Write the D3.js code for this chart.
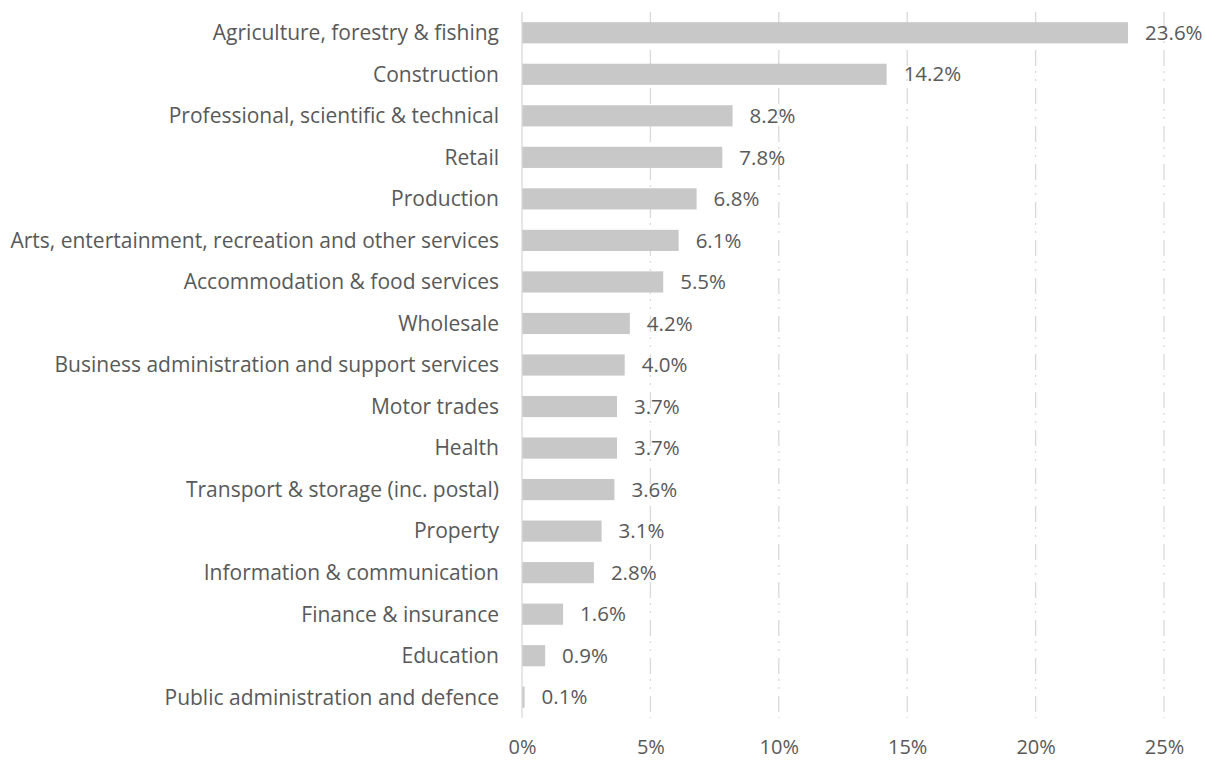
<!DOCTYPE html>
<html>
<head>
<meta charset="utf-8">
<script src="https://cdn.jsdelivr.net/npm/d3@7"></script>
<style>
  html, body { margin: 0; padding: 0; background: #ffffff; }
  svg { display: block; }
  text { font-family: "Open Sans", "Noto Sans", sans-serif; fill: #595959; }
</style>
</head>
<body>
<svg id="chart" width="1205" height="760"></svg>
<script>
// Share of businesses by industry (%)
const sectors = [
  "Agriculture, forestry & fishing",
  "Construction",
  "Professional, scientific & technical",
  "Retail",
  "Production",
  "Arts, entertainment, recreation and other services",
  "Accommodation & food services",
  "Wholesale",
  "Business administration and support services",
  "Motor trades",
  "Health",
  "Transport & storage (inc. postal)",
  "Property",
  "Information & communication",
  "Finance & insurance",
  "Education",
  "Public administration and defence"
];
const shares = [23.6, 14.2, 8.2, 7.8, 6.8, 6.1, 5.5, 4.2, 4.0, 3.7, 3.7, 3.6, 3.1, 2.8, 1.6, 0.9, 0.1];
const xTicks = [0, 5, 10, 15, 20, 25];

const rows = sectors.map((name, i) => ({ name, value: shares[i] }));

const svg = d3.select("#chart");
const margin = { left: 522, right: 41, top: 12, bottom: 42 };
const W = 1205, H = 760;

const x = d3.scaleLinear().domain([0, 25]).range([margin.left, W - margin.right]);
const y = d3.scaleBand().domain(sectors).range([margin.top, H - margin.bottom]).paddingInner(0.49).paddingOuter(0.245);

// vertical gridlines (dash-dot-dot)
svg.append("g").selectAll("line")
  .data(xTicks.filter(t => t > 0))
  .join("line")
  .attr("x1", d => x(d)).attr("x2", d => x(d))
  .attr("y1", margin.top).attr("y2", H - margin.bottom)
  .attr("stroke", "#d9d9d9").attr("stroke-width", 1.3)
  .attr("stroke-dasharray", "16,5,2,6,2,7");

// bars
svg.append("g").selectAll("rect")
  .data(rows)
  .join("rect")
  .attr("x", x(0))
  .attr("y", d => y(d.name))
  .attr("width", d => x(d.value) - x(0))
  .attr("height", y.bandwidth())
  .attr("fill", "#c8c8c8");

// category axis line
svg.append("line")
  .attr("x1", x(0)).attr("x2", x(0))
  .attr("y1", margin.top).attr("y2", H - margin.bottom)
  .attr("stroke", "#d9d9d9").attr("stroke-width", 1.3);

// category labels
svg.append("g").selectAll("text")
  .data(rows)
  .join("text")
  .attr("x", x(0) - 23)
  .attr("y", d => y(d.name) + y.bandwidth() / 2)
  .attr("dy", "0.35em")
  .attr("text-anchor", "end")
  .attr("font-size", 21)
  .text(d => d.name);

// value labels
svg.append("g").selectAll("text")
  .data(rows)
  .join("text")
  .attr("x", d => x(d.value) + 17)
  .attr("y", d => y(d.name) + y.bandwidth() / 2)
  .attr("dy", "0.35em")
  .attr("font-size", 20.5)
  .text(d => d.value.toFixed(1) + "%");

// x axis tick labels
const xAxis = d3.axisBottom(x).tickValues(xTicks).tickFormat(d => d + "%").tickSize(0).tickPadding(0);
const gx = svg.append("g").attr("transform", `translate(0,${H - 6.5})`).call(xAxis);
gx.select(".domain").remove();
gx.selectAll("text").attr("font-size", 20).attr("dy", "0").style("font-family", "'Open Sans', 'Noto Sans', sans-serif").attr("fill", "#595959");
</script>
</body>
</html>
